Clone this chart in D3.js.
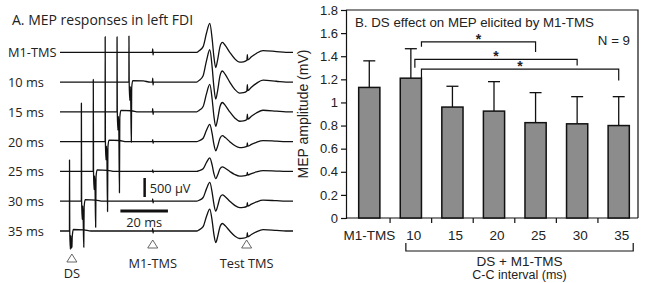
<!DOCTYPE html>
<html><head><meta charset="utf-8">
<script src="https://cdn.jsdelivr.net/npm/d3@7"></script>
<style>body{margin:0;background:#fff} svg{display:block}</style>
</head><body><svg id="c" width="645" height="283"></svg>
<script>
// ================= Panel A data =================
const traceLabels = ["M1-TMS","10 ms","15 ms","20 ms","25 ms","30 ms","35 ms"];
const dsTimes     = [null, -10, -15, -20, -25, -30, -35];   // ms relative to M1-TMS
const mepGain     = [1.0, 1.12, 0.95, 0.6, 0.47, 0.65, 0.76];
const dsUp        = [0, 1210, 1970, 2760, 2420, 2580, 1870]; // µV
const dsDown      = [0, 1580, 2130, 1840, 1470, 1210, 420];  // µV
// MEP template (ms, µV) for the control trace
const mepTime = [-39,-0.15,0,0.15,0.3,18.5,19.5,21.2,22.6,24,25,25.7,26.5,27.3,28.3,29.3,30.5,32.4,34.5,36.6,38.2,39.6,39.8,40.0,41.5,43.6,46.4,52,56,59];
const mepVolt = [0,0,90,-70,0,0,40,150,500,760,350,-100,-400,-200,150,260,180,0,-170,-260,-250,-210,-60,-200,-120,-30,45,20,0,0];
// DS artifact template: relative time, weights for up / down, fixed µV
const artRelT  = [-0.02, 0.0, 0.1, 0.35, 0.55, 0.75, 1.0, 1.15, 1.6, 6, 9];
const artUpW   = [0, 1, 0, 0, 0, 0, 0, 0, 0, 0, 0];
const artDownW = [0, 0, 0, 0, 0, 0, 1, 0, 0, 0, 0];
const artFixed = [0, 0, 0, -480, -120, -450, 0, -150, 40, 30, 0];
const markerTimes  = [-34, 0, 39.5];
const markerLabels = ["DS", "M1-TMS", "Test TMS"];

// ================= Panel B data =================
const categories = ["M1-TMS","10","15","20","25","30","35"];
const meanMEP    = [1.13, 1.21, 0.96, 0.925, 0.825, 0.815, 0.80];
const sdMEP      = [0.23, 0.255, 0.18, 0.255, 0.26, 0.235, 0.25];
const yTicks     = [0,0.2,0.4,0.6,0.8,1,1.2,1.4,1.6,1.8];
const yTickLabels= ["0","0.2","0.4","0.6","0.8","1","1.2","1.4","1.6","1.8"];
const sigFrom    = ["10","10","10"];
const sigTo      = ["25","30","35"];
const sigLevel   = [1.525, 1.373, 1.289];
const sigLeftEnd = [1.482, 1.30, 1.21];
const sigRightEnd= [1.436, 1.32, 1.19];
const sigAnchor  = ["edge","inner","edge"];

const svg = d3.select("#c");
const fontA = "'Open Sans', 'Noto Sans', sans-serif";
const fontB = "'Liberation Sans', Arial, sans-serif";

// ---------- Panel A ----------
const xt = d3.scaleLinear().domain([-39, 59]).range([60, 293]);
const row = d3.scalePoint().domain(traceLabels).range([52.3, 231]);
const uv = d3.scaleLinear().domain([0, 500]).range([0, -19]);

svg.append("text").attr("x", 12).attr("y", 25).attr("font-family", fontA)
  .attr("font-size", 14).attr("fill", "#222").text("A. MEP responses in left FDI");

const line = d3.line().curve(d3.curveMonotoneX);
traceLabels.forEach((lab, i) => {
  const base = row(lab);
  let pts = mepTime.map((t, k) => [t, mepVolt[k] * mepGain[i]]);
  const t0 = dsTimes[i];
  if (t0 !== null) {
    pts = pts.filter(p => p[0] < t0 + artRelT[0] || p[0] > t0 + artRelT[artRelT.length - 1]);
    artRelT.forEach((r, k) => {
      pts.push([t0 + r, dsUp[i] * artUpW[k] - dsDown[i] * artDownW[k] + artFixed[k]]);
    });
    pts.sort((a, b) => a[0] - b[0]);
  }
  svg.append("path").attr("fill", "none").attr("stroke", "#111").attr("stroke-width", 1.3)
    .attr("stroke-linejoin", "round")
    .attr("d", line(pts.map(p => [xt(p[0]), base + uv(p[1])])));
  svg.append("text").attr("x", 8).attr("y", base + 5).attr("font-family", fontA)
    .attr("font-size", 12.8).attr("fill", "#222").text(lab);
});

// scale bars
const sbStart = -13.6;
svg.append("line").attr("x1", xt(sbStart)).attr("x2", xt(sbStart + 20)).attr("y1", 211).attr("y2", 211)
  .attr("stroke", "#111").attr("stroke-width", 3);
svg.append("text").attr("x", (xt(sbStart) + xt(sbStart + 20)) / 2).attr("y", 227).attr("text-anchor", "middle")
  .attr("font-family", fontA).attr("font-size", 12.8).attr("fill", "#222").text("20 ms");
const vbX = xt(-3.4);
svg.append("line").attr("x1", vbX).attr("x2", vbX).attr("y1", 197).attr("y2", 197 + uv(500))
  .attr("stroke", "#111").attr("stroke-width", 2.5);
svg.append("text").attr("x", vbX + 5).attr("y", 193)
  .attr("font-family", fontA).attr("font-size", 12.8).attr("fill", "#222").text("500 µV");

// stimulus markers
markerTimes.forEach((t, i) => {
  const cx = xt(t);
  const ty = i === 0 ? 262 : 248;
  svg.append("path").attr("fill", "none").attr("stroke", "#555").attr("stroke-width", 0.9)
    .attr("d", `M${cx - 5},${ty}L${cx + 5},${ty}L${cx},${ty - 8}Z`);
  svg.append("text").attr("x", cx).attr("y", i === 0 ? 278 : 268).attr("text-anchor", "middle")
    .attr("font-family", fontA).attr("font-size", 12.8).attr("fill", "#222").text(markerLabels[i]);
});

// ---------- Panel B ----------
const x = d3.scaleBand().domain(categories).range([348.5, 639.5]).padding(0);
const y = d3.scaleLinear().domain([0, 1.8]).range([218, 10]);
const barW = x.bandwidth() * 0.51;
const cx = c => x(c) + x.bandwidth() / 2;
const gB = svg.append("g");

// frame
gB.append("path").attr("fill", "none").attr("stroke", "#111").attr("stroke-width", 1.2)
  .attr("d", `M346,${y(1.8)}H638V${y(0)}`);

const yAxis = gB.append("g").attr("transform", "translate(346,0)")
  .call(d3.axisLeft(y).tickValues(yTicks).tickFormat((d, i) => yTickLabels[i]).tickSizeOuter(0).tickSize(5).tickPadding(3));
yAxis.selectAll("text").attr("font-family", fontB).attr("font-size", 13).attr("fill", "#222");
yAxis.selectAll("line,path").attr("stroke", "#111").attr("stroke-width", 1.2);

// x axis line and boundary ticks
gB.append("line").attr("x1", 346).attr("x2", 638).attr("y1", y(0)).attr("y2", y(0))
  .attr("stroke", "#111").attr("stroke-width", 1.2);
categories.slice(0, -1).forEach(c => {
  const bx = x(c) + x.bandwidth();
  gB.append("line").attr("x1", bx).attr("x2", bx).attr("y1", y(0)).attr("y2", y(0) + 5)
    .attr("stroke", "#111").attr("stroke-width", 1.2);
});
categories.forEach(c => {
  gB.append("text").attr("x", cx(c) + (c === "M1-TMS" ? 0 : 3)).attr("y", 240).attr("text-anchor", "middle")
    .attr("font-family", fontB).attr("font-size", 13.5).attr("fill", "#222").text(c);
});

// bars + error bars
categories.forEach((c, i) => {
  const top = meanMEP[i] + sdMEP[i];
  gB.append("line").attr("x1", cx(c)).attr("x2", cx(c)).attr("y1", y(meanMEP[i])).attr("y2", y(top))
    .attr("stroke", "#111").attr("stroke-width", 1.3);
  gB.append("line").attr("x1", cx(c) - 6).attr("x2", cx(c) + 6).attr("y1", y(top)).attr("y2", y(top))
    .attr("stroke", "#111").attr("stroke-width", 1.3);
  gB.append("rect").attr("x", cx(c) - barW / 2).attr("width", barW)
    .attr("y", y(meanMEP[i])).attr("height", y(0) - y(meanMEP[i]))
    .attr("fill", "#8c8c8c").attr("stroke", "#111").attr("stroke-width", 1.5);
});

// significance brackets
sigFrom.forEach((f, i) => {
  const lx = sigAnchor[i] === "edge" ? cx(f) + barW / 2 : cx(f) + 4;
  const rx = cx(sigTo[i]);
  gB.append("path").attr("fill", "none").attr("stroke", "#111").attr("stroke-width", 1.2)
    .attr("d", `M${lx},${y(sigLeftEnd[i])}V${y(sigLevel[i])}H${rx}V${y(sigRightEnd[i])}`);
  gB.append("text").attr("x", (lx + rx) / 2).attr("y", y(sigLevel[i]) + 2).attr("text-anchor", "middle")
    .attr("font-family", fontB).attr("font-size", 14).attr("font-weight", "bold").attr("fill", "#222").text("*");
});

// titles
gB.append("text").attr("x", 355).attr("y", 27).attr("font-family", fontB).attr("font-size", 13.3)
  .attr("fill", "#222").text("B. DS effect on MEP elicited by M1-TMS");
gB.append("text").attr("x", 630).attr("y", 45).attr("text-anchor", "end").attr("font-family", fontB)
  .attr("font-size", 13.3).attr("fill", "#222").text("N = 9");
gB.append("text").attr("transform", `translate(308,${(y(0) + y(1.8)) / 2}) rotate(-90)`).attr("text-anchor", "middle")
  .attr("font-family", fontB).attr("font-size", 14).attr("fill", "#222").text("MEP amplitude (mV)");

// group bracket
const gl = cx("10") - 5, gr = cx("35") + 14.5;
gB.append("path").attr("fill", "none").attr("stroke", "#111").attr("stroke-width", 1.2)
  .attr("d", `M${gl},243V251H${gr}V243`);
gB.append("text").attr("x", (gl + gr) / 2).attr("y", 266).attr("text-anchor", "middle")
  .attr("font-family", fontB).attr("font-size", 13.5).attr("fill", "#222").text("DS + M1-TMS");
gB.append("text").attr("x", (gl + gr) / 2).attr("y", 279).attr("text-anchor", "middle")
  .attr("font-family", fontB).attr("font-size", 12.5).attr("fill", "#222").text("C-C interval (ms)");
</script></body></html>
